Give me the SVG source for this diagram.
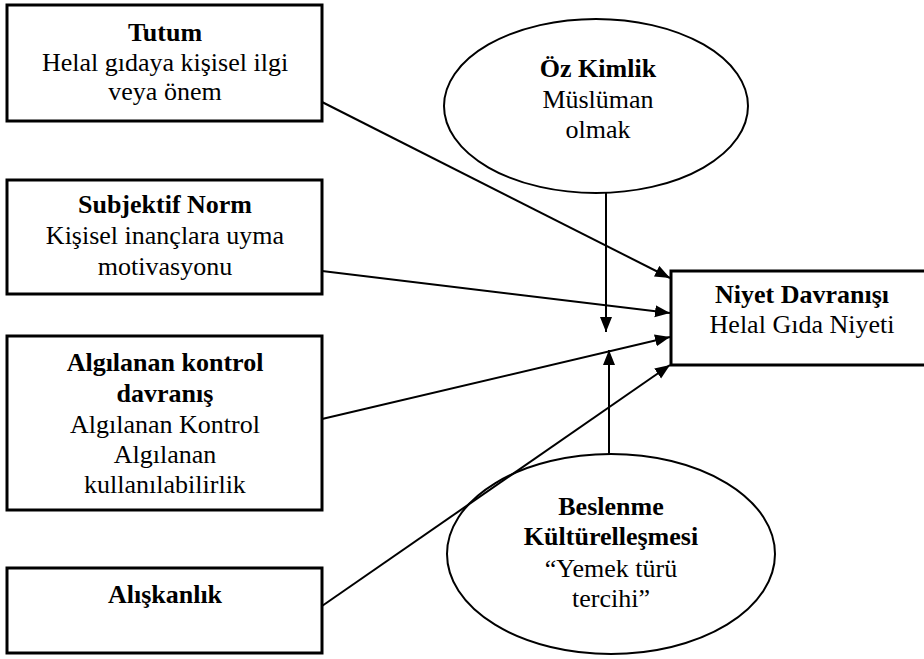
<svg xmlns="http://www.w3.org/2000/svg" width="924" height="659" viewBox="0 0 924 659">
<defs>
<style>
.box{fill:#fff;stroke:#000;stroke-width:3}
.ell{fill:#fff;stroke:#000;stroke-width:2}
.t{font-family:"Liberation Serif","Times New Roman",serif;font-size:26px;fill:#000;text-anchor:middle}
.b{font-weight:bold}
.c{stroke:#000;stroke-width:2;fill:none;marker-end:url(#ah)}
</style>
<marker id="ah" markerUnits="userSpaceOnUse" markerWidth="16" markerHeight="13" refX="15" refY="6" orient="auto">
<path d="M0,0 L15,6 L0,12 z" fill="#000"/>
</marker>
</defs>
<rect width="924" height="659" fill="#fff"/>
<g id="tutum">
<rect class="box" x="7" y="5" width="315" height="116"/>
<text class="t b" x="165" y="41">Tutum</text>
<text class="t" x="165" y="71">Helal gıdaya kişisel ilgi</text>
<text class="t" x="165" y="100">veya önem</text>
</g>
<g id="subjektif">
<rect class="box" x="7" y="180" width="315" height="114"/>
<text class="t b" x="165" y="213">Subjektif  Norm</text>
<text class="t" x="165" y="244">Kişisel  inançlara uyma</text>
<text class="t" x="165" y="275">motivasyonu</text>
</g>
<g id="algilanan">
<rect class="box" x="7" y="336" width="315" height="174"/>
<text class="t b" x="165" y="371">Algılanan kontrol</text>
<text class="t b" x="165" y="402">davranış</text>
<text class="t" x="165" y="433">Algılanan Kontrol</text>
<text class="t" x="165" y="463">Algılanan</text>
<text class="t" x="165" y="493">kullanılabilirlik</text>
</g>
<g id="aliskanlik">
<rect class="box" x="7" y="568" width="315" height="85"/>
<text class="t b" x="165" y="603">Alışkanlık</text>
</g>
<g id="ozkimlik">
<ellipse class="ell" cx="596" cy="106" rx="152" ry="87"/>
<text class="t b" x="598" y="77">Öz Kimlik</text>
<text class="t" x="598" y="108">Müslüman</text>
<text class="t" x="598" y="138">olmak</text>
</g>
<g id="beslenme">
<ellipse class="ell" cx="611" cy="554" rx="164" ry="100"/>
<text class="t b" x="611" y="515">Beslenme</text>
<text class="t b" x="611" y="545">Kültürelleşmesi</text>
<text class="t" x="611" y="577">“Yemek türü</text>
<text class="t" x="611" y="607">tercihi”</text>
</g>
<g id="niyet">
<rect class="box" x="671" y="271" width="270" height="94"/>
<text class="t b" x="802" y="303">Niyet Davranışı</text>
<text class="t" x="802" y="333">Helal Gıda Niyeti</text>
</g>
<g id="connectors">
<line class="c" x1="322" y1="102" x2="670" y2="278"/>
<line class="c" x1="322" y1="271" x2="670" y2="313"/>
<line class="c" x1="322" y1="419" x2="670" y2="337"/>
<line class="c" x1="322" y1="606" x2="670" y2="365"/>
<line class="c" x1="606" y1="193" x2="606" y2="332"/>
<line class="c" x1="609" y1="454" x2="609" y2="350"/>
</g>
</svg>
